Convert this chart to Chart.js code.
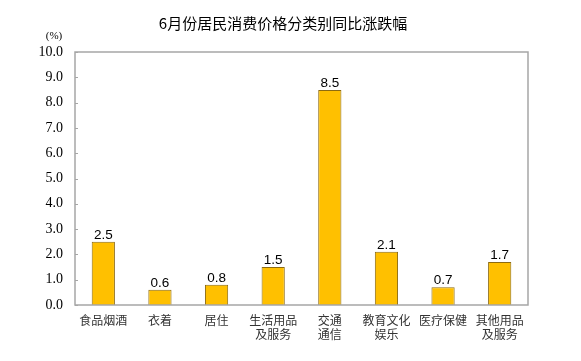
<!DOCTYPE html>
<html>
<head>
<meta charset="utf-8">
<script src="https://cdn.jsdelivr.net/npm/chart.js@4/dist/chart.umd.min.js"></script>
<style>
html,body{margin:0;padding:0;background:#fff;}
#wrap{width:581px;height:361px;}
</style>
</head>
<body>
<div id="wrap"><canvas id="c" width="581" height="361"></canvas></div>
<script>
const categories = [["食品烟酒"],["衣着"],["居住"],["生活用品","及服务"],["交通","通信"],["教育文化","娱乐"],["医疗保健"],["其他用品","及服务"]];
const values = [2.5, 0.6, 0.8, 1.5, 8.5, 2.1, 0.7, 1.7];
const yTicks = [0,1,2,3,4,5,6,7,8,9,10];
const titleText = "6月份居民消费价格分类别同比涨跌幅";
const unitText = "(%)";

const decor = {
  id: 'decor',
  afterDatasetsDraw(chart) {
    const ctx = chart.ctx;
    const a = chart.chartArea;
    const y = chart.scales.y;
    ctx.save();
    ctx.strokeStyle = '#a6a6a6';
    ctx.lineWidth = 1.5;
    ctx.strokeRect(a.left, a.top, a.right - a.left, a.bottom - a.top);
    ctx.lineWidth = 1;
    ctx.beginPath();
    yTicks.forEach(v => {
      const py = Math.round(y.getPixelForValue(v)) + 0.5;
      ctx.moveTo(a.left, py);
      ctx.lineTo(a.left + 3, py);
    });
    ctx.stroke();
    const meta = chart.getDatasetMeta(0);
    ctx.fillStyle = '#000';
    ctx.font = '13.5px "Liberation Sans", Arial, sans-serif';
    ctx.textAlign = 'center';
    ctx.textBaseline = 'alphabetic';
    meta.data.forEach((bar, i) => {
      ctx.fillText(values[i].toFixed(1), bar.x, bar.y - 3);
    });
    ctx.font = '15px "Noto Sans CJK SC", sans-serif';
    ctx.textBaseline = 'middle';
    ctx.fillText(titleText, 283, 23);
    ctx.font = '11px "Liberation Serif", serif';
    ctx.fillText(unitText, 54, 36);
    ctx.restore();
  }
};

new Chart(document.getElementById('c'), {
  type: 'bar',
  data: {
    labels: categories,
    datasets: [{
      data: values,
      backgroundColor: '#FFC000',
      borderColor: '#8c6a10',
      borderWidth: 1,
      categoryPercentage: 1.0,
      barPercentage: 0.41
    }]
  },
  options: {
    responsive: false,
    animation: false,
    devicePixelRatio: 1,
    layout: { padding: { top: 52, right: 53, left: 0, bottom: 0 } },
    plugins: { legend: { display: false }, tooltip: { enabled: false }, title: { display: false } },
    scales: {
      x: {
        grid: { display: false, drawTicks: false },
        border: { display: false },
        ticks: {
          color: '#333',
          font: { family: '"Noto Sans CJK SC", sans-serif', size: 12 },
          padding: 8,
          maxRotation: 0,
          autoSkip: false
        },
        afterFit(s) { s.height = 56; }
      },
      y: {
        min: 0, max: 10,
        grid: { display: false, drawTicks: false },
        border: { display: false },
        ticks: {
          stepSize: 1,
          color: '#000',
          padding: 12,
          font: { family: '"Liberation Serif", "Times New Roman", serif', size: 14 },
          callback: v => Number(v).toFixed(1)
        },
        afterFit(s) { s.width = 75; }
      }
    }
  },
  plugins: [decor]
});
</script>
</body>
</html>
